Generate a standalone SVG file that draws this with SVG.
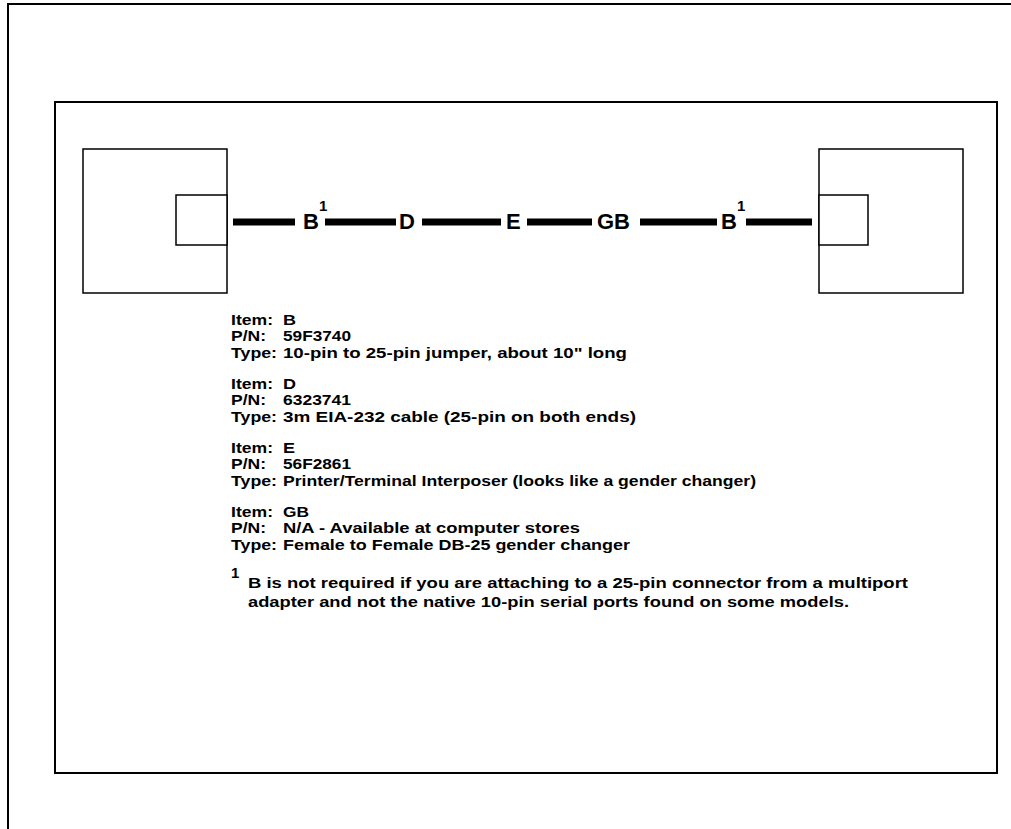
<svg xmlns="http://www.w3.org/2000/svg" width="1011" height="829" viewBox="0 0 1011 829">
<style>
.frame{fill:none;stroke:#000;stroke-width:2}
.box{fill:#fff;stroke:#000;stroke-width:1.5}
.cable{stroke:#000;stroke-width:7}
.lbl{font-family:"Liberation Sans",Arial,sans-serif;font-size:22px;font-weight:bold;fill:#000}
.sup{font-family:"Liberation Sans",Arial,sans-serif;font-size:15px;font-weight:bold;fill:#000}
.txt{font-family:"Liberation Sans",Arial,sans-serif;font-size:15px;font-weight:bold;fill:#000}
</style>
<rect width="1011" height="829" fill="#fff"/>
<g id="outer-frame">
<path class="frame" d="M8,829 V4 H1011"/>
<rect class="frame" x="55" y="102" width="942" height="671"/>
</g>
<g id="left-system">
<rect class="box" x="83" y="149" width="144" height="144"/>
<rect class="box" x="176" y="195" width="51" height="50"/>
</g>
<g id="right-system">
<rect class="box" x="819" y="149" width="144" height="144"/>
<rect class="box" x="819" y="195" width="49" height="50"/>
</g>
<g id="connectors">
<line class="cable" x1="233" y1="222" x2="295" y2="222"/>
<line class="cable" x1="325" y1="222" x2="396" y2="222"/>
<line class="cable" x1="422" y1="222" x2="501" y2="222"/>
<line class="cable" x1="527" y1="222" x2="592" y2="222"/>
<line class="cable" x1="640" y1="222" x2="717" y2="222"/>
<line class="cable" x1="746" y1="222" x2="812" y2="222"/>
</g>
<g id="node-B1">
<text class="lbl" x="303" y="229">B</text>
<text class="sup" x="319" y="211">1</text>
</g>
<g id="node-D"><text class="lbl" x="399" y="229">D</text></g>
<g id="node-E"><text class="lbl" x="506" y="229">E</text></g>
<g id="node-GB"><text class="lbl" x="597" y="229">GB</text></g>
<g id="node-B2">
<text class="lbl" x="721" y="229">B</text>
<text class="sup" x="737" y="211">1</text>
</g>
<g id="legend" class="txt" lengthAdjust="spacingAndGlyphs">
<text x="231" y="325" textLength="42" lengthAdjust="spacingAndGlyphs">Item:</text>
<text x="283" y="325" textLength="13" lengthAdjust="spacingAndGlyphs">B</text>
<text x="231" y="341" textLength="35" lengthAdjust="spacingAndGlyphs">P/N:</text>
<text x="283" y="341" textLength="68" lengthAdjust="spacingAndGlyphs">59F3740</text>
<text x="231" y="358" textLength="46" lengthAdjust="spacingAndGlyphs">Type:</text>
<text x="283" y="358" textLength="344" lengthAdjust="spacingAndGlyphs">10-pin to 25-pin jumper, about 10" long</text>
<text x="231" y="389" textLength="42" lengthAdjust="spacingAndGlyphs">Item:</text>
<text x="283" y="389" textLength="13" lengthAdjust="spacingAndGlyphs">D</text>
<text x="231" y="405" textLength="35" lengthAdjust="spacingAndGlyphs">P/N:</text>
<text x="283" y="405" textLength="68" lengthAdjust="spacingAndGlyphs">6323741</text>
<text x="231" y="422" textLength="46" lengthAdjust="spacingAndGlyphs">Type:</text>
<text x="283" y="422" textLength="353" lengthAdjust="spacingAndGlyphs">3m EIA-232 cable (25-pin on both ends)</text>
<text x="231" y="453" textLength="42" lengthAdjust="spacingAndGlyphs">Item:</text>
<text x="283" y="453" textLength="12" lengthAdjust="spacingAndGlyphs">E</text>
<text x="231" y="469" textLength="35" lengthAdjust="spacingAndGlyphs">P/N:</text>
<text x="283" y="469" textLength="68" lengthAdjust="spacingAndGlyphs">56F2861</text>
<text x="231" y="486" textLength="46" lengthAdjust="spacingAndGlyphs">Type:</text>
<text x="283" y="486" textLength="473" lengthAdjust="spacingAndGlyphs">Printer/Terminal Interposer (looks like a gender changer)</text>
<text x="231" y="517" textLength="42" lengthAdjust="spacingAndGlyphs">Item:</text>
<text x="283" y="517" textLength="26" lengthAdjust="spacingAndGlyphs">GB</text>
<text x="231" y="533" textLength="35" lengthAdjust="spacingAndGlyphs">P/N:</text>
<text x="283" y="533" textLength="297" lengthAdjust="spacingAndGlyphs">N/A - Available at computer stores</text>
<text x="231" y="550" textLength="46" lengthAdjust="spacingAndGlyphs">Type:</text>
<text x="283" y="550" textLength="347" lengthAdjust="spacingAndGlyphs">Female to Female DB-25 gender changer</text>
<text x="231" y="578" font-size="15">1</text>
<text x="248" y="588" textLength="660" lengthAdjust="spacingAndGlyphs">B is not required if you are attaching to a 25-pin connector from a multiport</text>
<text x="248" y="607" textLength="601" lengthAdjust="spacingAndGlyphs">adapter and not the native 10-pin serial ports found on some models.</text>
</g>
</svg>
